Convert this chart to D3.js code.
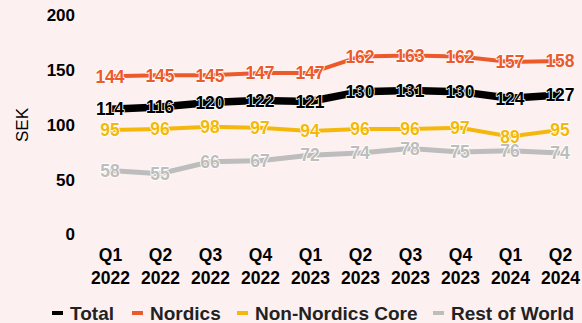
<!DOCTYPE html>
<html><head><meta charset="utf-8">
<script src="https://cdn.jsdelivr.net/npm/d3@7"></script>
<style>
html,body{margin:0;padding:0;background:#fdf0f0;}
svg{display:block;font-family:"Liberation Sans",Arial,sans-serif;}
</style></head><body>
<svg id="c" width="582" height="323"></svg>
<script>
const quarters = ["Q1","Q2","Q3","Q4","Q1","Q2","Q3","Q4","Q1","Q2"];
const years = ["2022","2022","2022","2022","2023","2023","2023","2023","2024","2024"];
const total = [114,116,120,122,121,130,131,130,124,127];
const nordics = [144,145,145,147,147,162,163,162,157,158];
const nonNordicsCore = [95,96,98,97,94,96,96,97,89,95];
const restOfWorld = [58,55,66,67,72,74,78,75,76,74];
const yTicks = [0,50,100,150,200];
const seriesNames = ["Total","Nordics","Non-Nordics Core","Rest of World"];

const series = [
  {name:seriesNames[0], values:total, color:"#000000", width:7.5},
  {name:seriesNames[1], values:nordics, color:"#ec5a2b", width:4},
  {name:seriesNames[2], values:nonNordicsCore, color:"#f4b80c", width:4},
  {name:seriesNames[3], values:restOfWorld, color:"#bdbdbd", width:5}
];

const svg = d3.select("#c");
svg.append("rect").attr("width",582).attr("height",323).attr("fill","#fdf0f0");

const x = d3.scalePoint().domain(d3.range(quarters.length)).range([110,560]);
const y = d3.scaleLinear().domain([0,200]).range([234,15]);

// y axis labels
const yAxis = d3.axisLeft(y).tickValues(yTicks).tickSize(0).tickPadding(0);
const gy = svg.append("g").attr("transform","translate(75,0)").call(yAxis);
gy.select(".domain").remove();
gy.selectAll("text").attr("font-size",17).attr("font-weight","bold").attr("fill","#000")
  .attr("font-family","Liberation Sans, Arial, sans-serif").attr("dy","0.35em");

svg.append("text").attr("transform","translate(28,125) rotate(-90)")
  .attr("text-anchor","middle").attr("font-size",17).attr("fill","#000").text("SEK");

// x axis labels
const xAxis = d3.axisBottom(x).tickSize(0).tickPadding(0).tickFormat(()=>"");
const gx = svg.append("g").attr("transform","translate(0,240)").call(xAxis);
gx.select(".domain").remove();
gx.selectAll(".tick").each(function(d){
  const t = d3.select(this).select("text").attr("font-size",17.5).attr("font-weight","bold")
    .attr("fill","#000").attr("font-family","Liberation Sans, Arial, sans-serif").attr("dy",0);
  t.append("tspan").attr("x",0).attr("y",21).text(quarters[d]);
  t.append("tspan").attr("x",0).attr("y",44).text(years[d]);
});

const line = d3.line().x((d,i)=>x(i)).y(d=>y(d));
series.forEach(s=>{
  svg.append("path").datum(s.values).attr("d",line).attr("fill","none")
    .attr("stroke",s.color).attr("stroke-width",s.width);
});
series.forEach(s=>{
  svg.append("g").selectAll("text").data(s.values).join("text")
    .attr("x",(d,i)=>x(i)).attr("y",d=>y(d)).attr("dy","0.36em")
    .attr("text-anchor","middle").attr("font-size",17.5).attr("font-weight","bold")
    .attr("fill",s.color).attr("stroke","#ffffff").attr("stroke-width",1.6)
    .attr("paint-order","stroke").attr("stroke-linejoin","round").text(d=>d);
});

// legend
const legendX = [52,132,237,433];
const lg = svg.append("g");
series.forEach((s,i)=>{
  lg.append("rect").attr("x",legendX[i]).attr("y",311).attr("width",11).attr("height",4).attr("fill",s.color);
  lg.append("text").attr("x",legendX[i]+18).attr("y",320).attr("font-size",19).attr("font-weight","bold")
    .attr("fill","#222").text(s.name);
});
</script>
</body></html>
